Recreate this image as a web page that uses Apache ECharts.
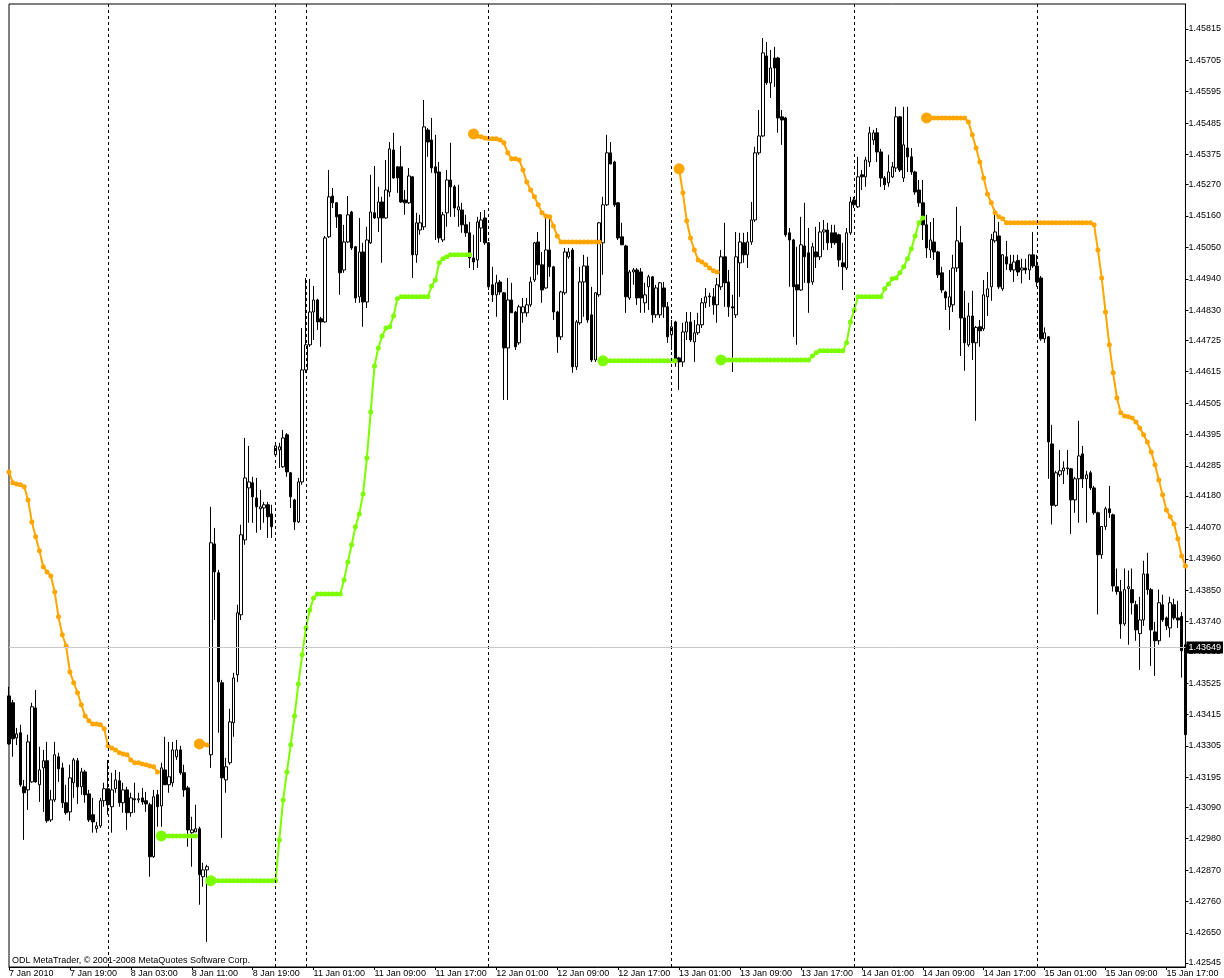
<!DOCTYPE html>
<html>
<head>
<meta charset="utf-8">
<title>EURUSD,M30</title>
<script src="https://cdn.jsdelivr.net/npm/echarts@6/dist/echarts.min.js"></script>
<style>
html,body{margin:0;padding:0;background:#fff;}
#chart{width:1224px;height:978px;}
</style>
</head>
<body>
<div id="chart"></div>
<script>
// trading sessions: day, first bar, number of 30 min bars
var sessions = [
  ['7 Jan', '11:00', 26],
  ['8 Jan', '00:00', 44],
  ['10 Jan', '20:00', 8],
  ['11 Jan', '00:00', 48],
  ['12 Jan', '00:00', 48],
  ['13 Jan', '00:00', 48],
  ['14 Jan', '00:00', 48],
  ['15 Jan', '00:00', 40]
];
var firstLabel = '7 Jan 2010';
var labelEvery = 16; // one time label every 8 hours

var yTickLabels = ['1.42545','1.42650','1.42760','1.42870','1.42980','1.43090','1.43195','1.43305',
  '1.43415','1.43525','1.43635','1.43740','1.43850','1.43960','1.44070','1.44180','1.44285','1.44395',
  '1.44505','1.44615','1.44725','1.44830','1.44940','1.45050','1.45160','1.45270','1.45375','1.45485',
  '1.45595','1.45705','1.45815'];
var lastPrice = 1.43649;

// open, high, low, close
var candles = [
  // 7 Jan
  [1.43480,1.43512,1.43308,1.43312],[1.43456,1.43466,1.43267,1.43330],[1.43333,1.43368,1.43308,1.43347],
  [1.43351,1.43379,1.43162,1.43169],[1.43162,1.43186,1.42976,1.43141],[1.43151,1.43344,1.43081,1.43319],
  [1.43179,1.43456,1.43176,1.43442],[1.43438,1.43501,1.43176,1.43179],[1.43169,1.43302,1.43109,1.43221],
  [1.43228,1.43291,1.43074,1.43253],[1.43253,1.43319,1.43036,1.43043],[1.43046,1.43151,1.43039,1.43116],
  [1.43116,1.43319,1.43109,1.43274],[1.43267,1.43281,1.43179,1.43225],[1.43228,1.43246,1.43088,1.43106],
  [1.43106,1.43169,1.43064,1.43071],[1.43074,1.43239,1.43043,1.43193],[1.43176,1.43263,1.43123,1.43256],
  [1.43253,1.43263,1.43102,1.43162],[1.43162,1.43228,1.43134,1.43214],[1.43214,1.43221,1.43106,1.43134],
  [1.43137,1.43151,1.43039,1.43046],[1.43064,1.43123,1.43001,1.43039],[1.43015,1.43039,1.43001,1.43025],
  [1.43025,1.43123,1.43018,1.43113],[1.43113,1.43176,1.43092,1.43155],
  // 8 Jan
  [1.43155,1.43256,1.43064,1.43099],[1.43092,1.43211,1.43001,1.43151],[1.43155,1.43221,1.43141,1.43186],
  [1.43183,1.43214,1.43092,1.43106],[1.43106,1.43176,1.43071,1.43151],[1.43151,1.43162,1.43011,1.43071],
  [1.43071,1.43141,1.43057,1.43123],[1.43120,1.43176,1.43071,1.43116],[1.43116,1.43141,1.43106,1.43120],
  [1.43123,1.43158,1.43099,1.43109],[1.43113,1.43144,1.43074,1.43102],[1.43099,1.43106,1.42847,1.42917],
  [1.42917,1.43151,1.42913,1.43127],[1.43134,1.43151,1.43022,1.43092],[1.43095,1.43246,1.43022,1.43228],
  [1.43221,1.43337,1.43169,1.43169],[1.43169,1.43319,1.43141,1.43197],[1.43176,1.43319,1.43162,1.43291],
  [1.43267,1.43326,1.43256,1.43291],[1.43291,1.43305,1.43204,1.43211],[1.43211,1.43239,1.43127,1.43151],
  [1.43158,1.43165,1.42952,1.43011],[1.43001,1.43057,1.42882,1.43011],[1.43004,1.43099,1.43004,1.43015],
  [1.43015,1.43022,1.42749,1.42854],[1.42847,1.42896,1.42812,1.42871],[1.42871,1.42889,1.42619,1.42882],
  [1.43274,1.44142,1.43228,1.44016],[1.44012,1.44068,1.43746,1.43914],[1.43911,1.43921,1.43351,1.43529],
  [1.43526,1.43536,1.42983,1.43193],[1.43186,1.43263,1.43141,1.43232],[1.43246,1.43435,1.43239,1.43389],
  [1.43386,1.43561,1.43337,1.43543],[1.43554,1.43799,1.43529,1.43771],[1.43764,1.44079,1.43746,1.44044],
  [1.44026,1.44383,1.44009,1.44243],[1.44208,1.44355,1.44086,1.44229],[1.44226,1.44247,1.44086,1.44177],
  [1.44173,1.44243,1.44051,1.44142],[1.44135,1.44201,1.44061,1.44142],[1.44138,1.44159,1.44086,1.44149],
  [1.44149,1.44159,1.44033,1.44107],[1.44117,1.44149,1.44033,1.44072],
  // 10 Jan
  [1.44324,1.44369,1.44317,1.44355],[1.44341,1.44366,1.44278,1.44352],[1.44282,1.44411,1.44278,1.44383],
  [1.44394,1.44400,1.44247,1.44264],[1.44261,1.44264,1.44138,1.44177],[1.44166,1.44170,1.44061,1.44089],
  [1.44089,1.44243,1.44085,1.44229],[1.44229,1.44768,1.44219,1.44621],
  // 11 Jan
  [1.44621,1.44943,1.44611,1.44709],[1.44709,1.44940,1.44702,1.44824],[1.44824,1.44915,1.44726,1.44866],
  [1.44866,1.44870,1.44761,1.44789],[1.44800,1.44807,1.44702,1.44789],[1.44789,1.45090,1.44786,1.45083],
  [1.45087,1.45321,1.45083,1.45227],[1.45230,1.45258,1.45188,1.45206],[1.45206,1.45209,1.45118,1.45157],
  [1.45164,1.45167,1.44884,1.44961],[1.44971,1.45129,1.44961,1.45069],[1.45069,1.45230,1.45066,1.45164],
  [1.45174,1.45178,1.45041,1.45048],[1.45052,1.45055,1.44856,1.44873],[1.44877,1.45153,1.44856,1.45034],
  [1.45034,1.45066,1.44772,1.44859],[1.44859,1.45122,1.44838,1.45076],[1.45066,1.45304,1.45062,1.45174],
  [1.45171,1.45335,1.45150,1.45153],[1.45153,1.45262,1.45104,1.45209],[1.45209,1.45227,1.44996,1.45153],
  [1.45153,1.45356,1.45150,1.45251],[1.45244,1.45419,1.45227,1.45395],[1.45391,1.45451,1.45290,1.45293],
  [1.45332,1.45335,1.45241,1.45293],[1.45332,1.45405,1.45206,1.45209],[1.45216,1.45251,1.45164,1.45206],
  [1.45206,1.45328,1.45202,1.45300],[1.45297,1.45300,1.44943,1.45024],[1.45024,1.45171,1.44996,1.45136],
  [1.45111,1.45164,1.45094,1.45136],[1.45122,1.45566,1.45111,1.45472],[1.45461,1.45468,1.45367,1.45419],
  [1.45426,1.45503,1.45311,1.45328],[1.45332,1.45444,1.45076,1.45311],[1.45314,1.45349,1.45066,1.45083],
  [1.45076,1.45174,1.45069,1.45164],[1.45171,1.45321,1.45122,1.45286],[1.45286,1.45416,1.45157,1.45262],
  [1.45262,1.45269,1.45157,1.45188],[1.45181,1.45269,1.45122,1.45192],[1.45181,1.45206,1.45101,1.45129],
  [1.45129,1.45164,1.45087,1.45101],[1.45101,1.45139,1.44978,1.45013],[1.45013,1.45094,1.44971,1.44999],
  [1.45006,1.45157,1.44978,1.45139],[1.45118,1.45174,1.45069,1.45146],[1.45153,1.45181,1.45059,1.45066],
  // 12 Jan
  [1.45066,1.45069,1.44901,1.44912],[1.44919,1.44982,1.44859,1.44884],[1.44884,1.44954,1.44807,1.44926],
  [1.44929,1.44936,1.44884,1.44894],[1.44891,1.44894,1.44516,1.44698],[1.44698,1.44943,1.44516,1.44866],
  [1.44866,1.44926,1.44821,1.44821],[1.44824,1.44828,1.44691,1.44702],[1.44716,1.44849,1.44709,1.44842],
  [1.44821,1.44873,1.44786,1.44842],[1.44821,1.44873,1.44807,1.44849],[1.44849,1.44947,1.44842,1.44929],
  [1.44936,1.45069,1.44929,1.45066],[1.45069,1.45104,1.44954,1.44989],[1.44989,1.45034,1.44856,1.44901],
  [1.44908,1.45164,1.44905,1.45041],[1.45041,1.45157,1.44947,1.44982],[1.44982,1.44985,1.44796,1.44824],
  [1.44824,1.44828,1.44681,1.44737],[1.44737,1.44898,1.44726,1.44894],[1.44891,1.45048,1.44884,1.45034],
  [1.45017,1.45048,1.45010,1.45034],[1.45041,1.45048,1.44611,1.44632],[1.44632,1.44796,1.44621,1.44789],
  [1.44786,1.44982,1.44779,1.44929],[1.44929,1.45024,1.44807,1.44985],[1.44985,1.45017,1.44786,1.44796],
  [1.44814,1.44912,1.44649,1.44656],[1.44656,1.44894,1.44649,1.44891],[1.44884,1.45139,1.44877,1.45136],
  [1.45066,1.45227,1.44954,1.45199],[1.45199,1.45444,1.45195,1.45381],[1.45381,1.45419,1.45342,1.45342],
  [1.45349,1.45353,1.45192,1.45199],[1.45206,1.45209,1.45076,1.45083],[1.45087,1.45136,1.45059,1.45059],
  [1.45055,1.45059,1.44821,1.44877],[1.44873,1.44971,1.44866,1.44964],[1.44964,1.44978,1.44919,1.44971],
  [1.44971,1.44978,1.44849,1.44873],[1.44964,1.44978,1.44821,1.44873],[1.44856,1.44926,1.44821,1.44884],
  [1.44912,1.44954,1.44831,1.44947],[1.44947,1.44950,1.44786,1.44814],[1.44814,1.44919,1.44803,1.44908],
  [1.44814,1.44929,1.44803,1.44926],[1.44908,1.44929,1.44803,1.44842],[1.44842,1.44859,1.44716,1.44737],
  // 13 Jan
  [1.44744,1.44796,1.44691,1.44772],[1.44789,1.44793,1.44632,1.44646],[1.44663,1.44667,1.44551,1.44649],
  [1.44649,1.44786,1.44632,1.44754],[1.44754,1.44824,1.44726,1.44789],[1.44789,1.44824,1.44719,1.44726],
  [1.44719,1.44796,1.44649,1.44751],[1.44751,1.44821,1.44744,1.44779],[1.44779,1.44873,1.44768,1.44856],
  [1.44856,1.44908,1.44838,1.44877],[1.44877,1.44891,1.44842,1.44880],[1.44877,1.44908,1.44814,1.44849],
  [1.44849,1.44943,1.44786,1.44919],[1.44912,1.45041,1.44901,1.45017],[1.45017,1.45136,1.44842,1.44926],
  [1.44929,1.44971,1.44807,1.44842],[1.44842,1.44884,1.44614,1.44838],[1.44814,1.45104,1.44803,1.45017],
  [1.44996,1.45101,1.44877,1.45069],[1.45066,1.45101,1.44996,1.45024],[1.45024,1.45104,1.44978,1.45069],
  [1.45069,1.45209,1.45059,1.45146],[1.45146,1.45402,1.45139,1.45381],[1.45381,1.45531,1.45374,1.45440],
  [1.45440,1.45783,1.45437,1.45731],[1.45720,1.45769,1.45619,1.45626],[1.45626,1.45741,1.45573,1.45678],
  [1.45713,1.45752,1.45612,1.45678],[1.45713,1.45717,1.45451,1.45503],[1.45507,1.45531,1.45409,1.45496],
  [1.45503,1.45507,1.45087,1.45094],[1.45101,1.45118,1.44912,1.45076],[1.45076,1.45080,1.44737,1.44912],
  [1.44919,1.45052,1.44709,1.44901],[1.44901,1.45157,1.44898,1.45059],[1.45055,1.45206,1.44926,1.45017],
  [1.45031,1.45118,1.44821,1.44926],[1.44929,1.45066,1.44919,1.45052],[1.45034,1.45122,1.44978,1.45017],
  [1.45017,1.45139,1.45006,1.45104],[1.45104,1.45146,1.45041,1.45111],[1.45111,1.45136,1.45041,1.45066],
  [1.45101,1.45129,1.45048,1.45066],[1.45101,1.45129,1.45059,1.45066],[1.45094,1.45098,1.44982,1.45006],
  [1.44996,1.45066,1.44901,1.44982],[1.44978,1.45118,1.44971,1.45101],[1.45101,1.45227,1.45094,1.45209],
  // 14 Jan
  [1.45216,1.45227,1.45188,1.45199],[1.45192,1.45367,1.45188,1.45297],[1.45304,1.45321,1.45251,1.45297],
  [1.45297,1.45367,1.45262,1.45356],[1.45349,1.45472,1.45332,1.45451],[1.45426,1.45461,1.45409,1.45451],
  [1.45451,1.45468,1.45349,1.45384],[1.45384,1.45395,1.45262,1.45293],[1.45293,1.45300,1.45251,1.45269],
  [1.45276,1.45374,1.45262,1.45314],[1.45297,1.45349,1.45293,1.45332],[1.45328,1.45542,1.45314,1.45507],
  [1.45507,1.45510,1.45314,1.45321],[1.45293,1.45542,1.45279,1.45409],[1.45398,1.45542,1.45314,1.45367],
  [1.45367,1.45398,1.45304,1.45314],[1.45314,1.45318,1.45234,1.45244],[1.45251,1.45286,1.45192,1.45206],
  [1.45206,1.45286,1.45076,1.45129],[1.45129,1.45164,1.45013,1.45048],[1.45041,1.45139,1.45013,1.45076],
  [1.45069,1.45153,1.45006,1.45034],[1.45034,1.45038,1.44943,1.44954],[1.44961,1.44982,1.44891,1.44901],
  [1.44894,1.44898,1.44831,1.44873],[1.44842,1.44971,1.44761,1.44877],[1.44849,1.45024,1.44824,1.44978],
  [1.44978,1.45192,1.44964,1.45073],[1.45066,1.45125,1.44670,1.44803],[1.44803,1.44898,1.44618,1.44716],
  [1.44709,1.44856,1.44702,1.44810],[1.44810,1.44898,1.44656,1.44716],[1.44716,1.44775,1.44443,1.44770],
  [1.44772,1.44796,1.44702,1.44758],[1.44765,1.44936,1.44758,1.44884],[1.44877,1.44964,1.44810,1.44905],
  [1.44912,1.45097,1.44863,1.45078],[1.45073,1.45185,1.45066,1.45104],[1.45090,1.45139,1.44905,1.44912],
  [1.44905,1.45027,1.44898,1.45024],[1.45017,1.45073,1.44971,1.44992],[1.44992,1.45024,1.44964,1.44971],
  [1.44971,1.45024,1.44929,1.44999],[1.45004,1.45024,1.44950,1.44964],[1.44971,1.45010,1.44924,1.44978],
  [1.44978,1.45010,1.44957,1.44971],[1.44971,1.45024,1.44936,1.45024],[1.45024,1.45104,1.44978,1.44985],
  // 15 Jan
  [1.44985,1.45024,1.44912,1.44929],[1.44943,1.44950,1.44723,1.44730],[1.44730,1.44770,1.44716,1.44751],
  [1.44737,1.44740,1.44240,1.44369],[1.44362,1.44429,1.44080,1.44147],[1.44147,1.44268,1.44142,1.44261],
  [1.44254,1.44341,1.44247,1.44268],[1.44268,1.44301,1.44222,1.44278],[1.44275,1.44341,1.44254,1.44278],
  [1.44275,1.44278,1.44047,1.44166],[1.44166,1.44247,1.44121,1.44240],[1.44240,1.44443,1.44086,1.44320],
  [1.44327,1.44355,1.44208,1.44240],[1.44240,1.44268,1.44086,1.44254],[1.44261,1.44268,1.44201,1.44208],
  [1.44208,1.44215,1.44114,1.44121],[1.44121,1.44125,1.43765,1.43974],[1.43974,1.44075,1.43960,1.44073],
  [1.44073,1.44142,1.44061,1.44135],[1.44135,1.44215,1.44103,1.44121],[1.44114,1.44118,1.43845,1.43865],
  [1.43862,1.43926,1.43834,1.43845],[1.43845,1.43886,1.43680,1.43732],[1.43732,1.43926,1.43725,1.43852],
  [1.43856,1.43919,1.43659,1.43862],[1.43852,1.43926,1.43765,1.43806],[1.43799,1.43813,1.43673,1.43711],
  [1.43698,1.43827,1.43571,1.43746],[1.43746,1.43953,1.43725,1.43907],[1.43907,1.43981,1.43834,1.43852],
  [1.43852,1.43858,1.43585,1.43711],[1.43704,1.43739,1.43550,1.43673],[1.43673,1.43852,1.43659,1.43806],
  [1.43799,1.43834,1.43739,1.43746],[1.43753,1.43758,1.43711,1.43725],[1.43718,1.43827,1.43685,1.43806],
  [1.43799,1.43820,1.43746,1.43753],[1.43753,1.43813,1.43718,1.43746],[1.43758,1.43774,1.43544,1.43638],
  [1.43659,1.43673,1.43340,1.43344]
];

// trailing stop above price (sell side): [first bar, values]
var sellStops = [
  [0, [1.44264,1.44226,1.44222,1.44219,1.44212,1.44166,1.44089,1.44037,1.43988,1.43932,
       1.43914,1.43900,1.43844,1.43757,1.43694,1.43655,1.43564,1.43526,1.43491,1.43449,
       1.43410,1.43393,1.43382,1.43382,1.43379,1.43365,1.43305,1.43298,1.43291,1.43281,
       1.43277,1.43274,1.43256,1.43246,1.43246,1.43242,1.43239,1.43235,1.43232,1.43214]],
  [50, [1.43312,1.43312,1.43308]],
  [122, [1.45447,1.45440,1.45437,1.45433,1.45431,1.45430,1.45430,1.45426,1.45416,1.45381,
         1.45360,1.45360,1.45356,1.45321,1.45279,1.45251,1.45227,1.45199,1.45171,1.45160,
         1.45157,1.45125,1.45090,1.45069,1.45069,1.45069,1.45069,1.45069,1.45069,1.45069,
         1.45069,1.45069,1.45069,1.45069]],
  [176, [1.45325,1.45241,1.45143,1.45083,1.45041,1.45006,1.44999,1.44989,1.44978,1.44968,1.44964]],
  [241, [1.45503,1.45503,1.45503,1.45503,1.45503,1.45503,1.45503,1.45503,1.45503,1.45503,1.45503,
         1.45489,1.45444,1.45398,1.45349,1.45293,1.45237,1.45206,1.45171,1.45157,1.45150,
         1.45136,1.45136,1.45136,1.45136,1.45136,1.45136,1.45136,1.45136,1.45136,1.45136,1.45136,1.45136,
         1.45136,1.45136,1.45136,1.45136,1.45136,1.45136,1.45136,1.45136,1.45136,1.45136,1.45136,
         1.45129,1.45041,1.44943,1.44824,1.44709,1.44611,1.44523,1.44471,1.44460,1.44457,
         1.44453,1.44439,1.44418,1.44394,1.44369,1.44334,1.44289,1.44236,1.44184,1.44131,
         1.44107,1.44082,1.44030,1.43970,1.43935]]
];

// trailing stop below price (buy side)
var buyStops = [
  [40, [1.42990,1.42990,1.42990,1.42990,1.42990,1.42990,1.42990,1.42990,1.42990,1.42990]],
  [53, [1.42833,1.42833,1.42833,1.42833,1.42833,1.42833,1.42833,1.42833,1.42833,1.42833,
        1.42833,1.42833,1.42833,1.42833,1.42833,1.42833,1.42833,1.42833,
        1.42976,1.43116,1.43214,1.43309,1.43410,1.43522,1.43624,1.43718,1.43781,1.43823,
        1.43837,1.43837,1.43837,1.43837,1.43837,1.43837,1.43837,
        1.43886,1.43949,1.44009,1.44072,1.44117,1.44187,1.44313,1.44474,1.44635,1.44698,
        1.44740,1.44768,1.44772,1.44810,1.44870,
        1.44877,1.44877,1.44877,1.44877,1.44877,1.44877,1.44877,1.44877,
        1.44915,1.44936,1.44996,1.45010,1.45017,
        1.45024,1.45024,1.45024,1.45024,1.45024,1.45024]],
  [156, [1.44653,1.44653,1.44653,1.44653,1.44653,1.44653,1.44653,1.44653,1.44653,1.44653,
         1.44653,1.44653,1.44653,1.44653,1.44653,1.44653,1.44653,1.44653,1.44653,1.44653]],
  [187, [1.44656,1.44656,1.44656,1.44656,1.44656,1.44656,1.44656,1.44656,1.44656,1.44656,1.44656,1.44656,
         1.44656,1.44656,1.44656,1.44656,1.44656,1.44656,1.44656,1.44656,1.44656,1.44656,1.44656,1.44656,
         1.44670,1.44681,
         1.44688,1.44688,1.44688,1.44688,1.44688,1.44688,1.44688,
         1.44716,1.44789,1.44831,
         1.44877,1.44877,1.44877,1.44877,1.44877,1.44877,1.44877,
         1.44905,1.44922,1.44940,1.44943,1.44961,1.44982,1.45010,1.45045,1.45090,1.45136,1.45153]]
];

// bar times
var times = [];
var dayStarts = [];
sessions.forEach(function (s) {
  var hm = s[1].split(':');
  var m0 = (+hm[0]) * 60 + (+hm[1]);
  if (times.length) dayStarts.push(times.length);
  for (var k = 0; k < s[2]; k++) {
    var t = m0 + k * 30, hh = Math.floor(t / 60), mm = t % 60;
    times.push(s[0] + ' ' + (hh < 10 ? '0' : '') + hh + ':' + (mm < 10 ? '0' : '') + mm);
  }
});

function spread(segs) {
  var arr = times.map(function () { return null; });
  segs.forEach(function (seg) {
    seg[1].forEach(function (v, k) { arr[seg[0] + k] = v; });
  });
  return arr;
}
var sellLine = spread(sellStops);
var buyLine = spread(buyStops);

function stopSeries(name, data, color) {
  return {
    name: name,
    type: 'line',
    data: data,
    connectNulls: false,
    symbol: 'circle',
    showAllSymbol: true,
    symbolSize: function (v, p) {
      var i = p.dataIndex;
      return (i > 0 && data[i - 1] == null) ? 11 : 5;
    },
    lineStyle: { color: color, width: 2 },
    itemStyle: { color: color },
    emphasis: { disabled: true },
    z: 4
  };
}

var yTicks = yTickLabels.map(Number);
var font = 'Liberation Sans';

var chart = echarts.init(document.getElementById('chart'));
var option = {
  animation: false,
  backgroundColor: '#fff',
  textStyle: { fontFamily: font },
  grid: {
    left: 9, right: 38, top: 4, bottom: 10,
    show: true, borderColor: '#000', borderWidth: 1, backgroundColor: '#fff'
  },
  xAxis: {
    type: 'category',
    data: times,
    boundaryGap: false,
    axisLine: { lineStyle: { color: '#000', width: 1 } },
    axisTick: {
      show: true, length: 3,
      interval: function (i) { return i % labelEvery === 0; },
      lineStyle: { color: '#000' }
    },
    axisLabel: {
      interval: function (i) { return i % labelEvery === 0; },
      formatter: function (v, i) { return i === 0 ? firstLabel : v; },
      align: 'left',
      color: '#000',
      fontSize: 9,
      fontFamily: font,
      margin: 2
    },
    splitLine: { show: false }
  },
  yAxis: {
    type: 'value',
    position: 'right',
    min: 1.42531,
    max: 1.45902,
    axisLine: { show: true, lineStyle: { color: '#000', width: 1 } },
    axisTick: { show: true, length: 3, customValues: yTicks, lineStyle: { color: '#000' } },
    axisLabel: {
      customValues: yTicks,
      formatter: function (v) { return v.toFixed(5); },
      color: '#000',
      fontSize: 9,
      fontFamily: font,
      margin: 3
    },
    splitLine: { show: false }
  },
  graphic: [{
    type: 'text',
    left: 12,
    top: 956,
    style: {
      text: 'ODL MetaTrader, \u00a9 2001-2008 MetaQuotes Software Corp.',
      fill: '#000',
      font: '9px "Liberation Sans"'
    }
  }],
  series: [
    {
      name: 'EURUSD',
      type: 'candlestick',
      data: candles.map(function (c) { return [c[0], c[3], c[2], c[1]]; }),
      barWidth: 3,
      itemStyle: {
        color: '#fff', color0: '#000',
        borderColor: '#000', borderColor0: '#000', borderWidth: 1
      },
      emphasis: { disabled: true },
      markLine: {
        silent: true,
        precision: 5,
        symbol: ['none', 'none'],
        animation: false,
        data: dayStarts.map(function (i) {
          return {
            xAxis: times[i],
            lineStyle: { color: '#000', type: [3, 3], width: 1 },
            label: { show: false }
          };
        }).concat([{
          yAxis: lastPrice,
          lineStyle: { color: '#c8c8c8', type: 'solid', width: 1 },
          label: {
            show: true, position: 'end', distance: 1,
            formatter: lastPrice.toFixed(5),
            color: '#fff', backgroundColor: '#000',
            padding: [2, 2, 1, 2], fontSize: 9, fontFamily: font
          }
        }])
      }
    },
    stopSeries('sell stop', sellLine, '#FFA500'),
    stopSeries('buy stop', buyLine, '#7CFC00')
  ]
};
chart.setOption(option);
</script>
</body>
</html>
